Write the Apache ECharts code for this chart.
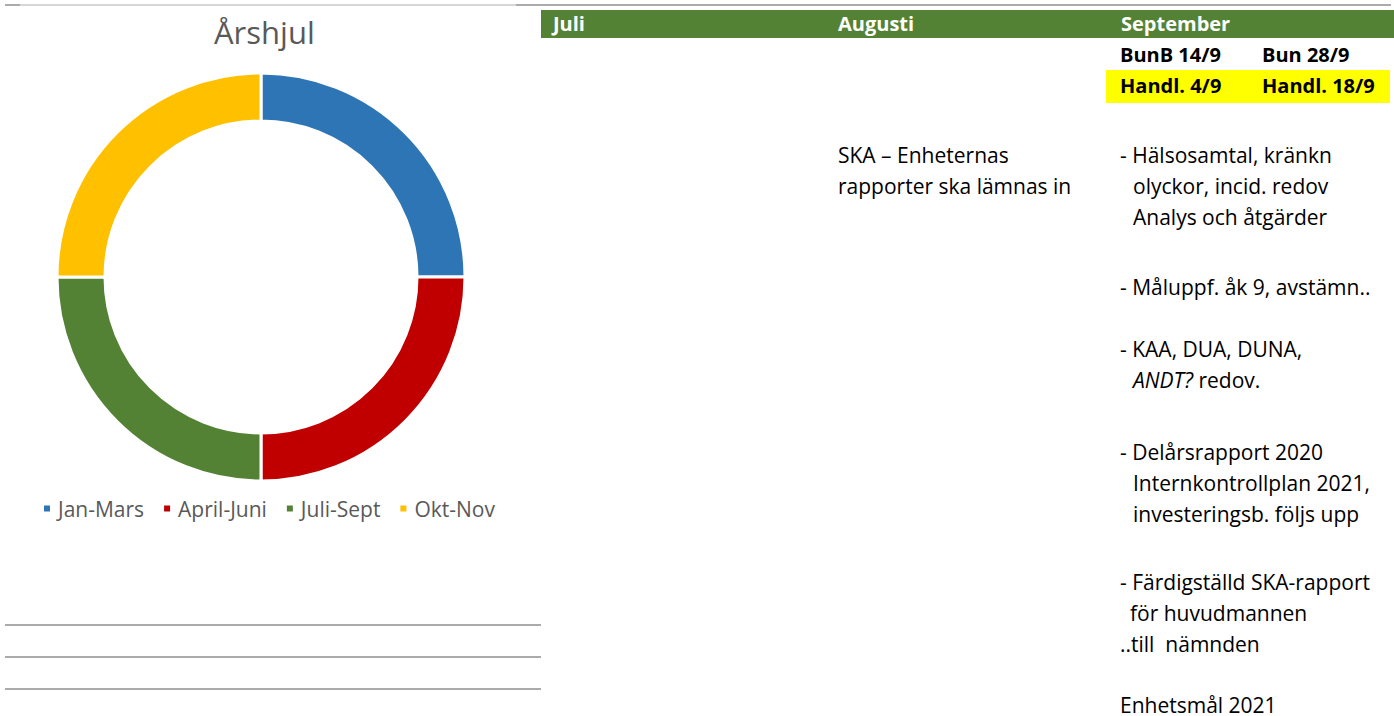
<!DOCTYPE html>
<html>
<head>
<meta charset="utf-8">
<script src="https://cdn.jsdelivr.net/npm/echarts@6/dist/echarts.min.js"></script>
<style>
  html, body { margin:0; padding:0; background:#fff; width:1394px; height:716px; overflow:hidden; font-family:"Open Sans", sans-serif; }
  #chart { position:absolute; left:0; top:0; width:541px; height:600px; }
  .abs { position:absolute; white-space:pre; }
  .hdr { color:#fff; font-weight:bold; font-size:20px; line-height:28px; top:10px; }
  .b { color:#000; font-weight:bold; font-size:20px; line-height:30px; }
  .t { color:#000; font-size:21px; line-height:31px; }
  .hline { position:absolute; height:2px; background:#ababab; }
</style>
</head>
<body>
<div class="hline" style="left:5px;top:4px;width:1386px;"></div>
<div class="hline" style="left:20px;top:4px;width:496px;background:#d6d6d6;"></div>
<div class="hline" style="left:5px;top:624px;width:536px;"></div>
<div class="hline" style="left:5px;top:656px;width:536px;"></div>
<div class="hline" style="left:5px;top:688px;width:536px;"></div>
<div id="chart"></div>
<div id="table"></div>
<script>
// ---- data ----
var categories = ['Jan-Mars', 'April-Juni', 'Juli-Sept', 'Okt-Nov'];
var values = [1, 1, 1, 1];
var chartTitle = 'Årshjul';
var months = ['Juli', 'Augusti', 'September'];
var meetings = ['BunB 14/9', 'Bun 28/9'];
var handl = ['Handl. 4/9', 'Handl. 18/9'];
var augustiLines = ['SKA – Enheternas', 'rapporter ska lämnas in'];
var septLines = [
  '- Hälsosamtal, kränkn',
  'olyckor, incid. redov',
  'Analys och åtgärder',
  '- Måluppf. åk 9, avstämn..',
  '- KAA, DUA, DUNA,',
  '<i>ANDT?</i> redov.',
  '- Delårsrapport 2020',
  'Internkontrollplan 2021,',
  'investeringsb. följs upp',
  '- Färdigställd SKA-rapport',
  'för huvudmannen',
  '..till  nämnden',
  'Enhetsmål 2021'
];

// ---- styles / layout ----
var colors = ['#2E75B6', '#C00000', '#548235', '#FFC000'];
var septY = [155, 186, 217, 287, 349, 380, 452, 483, 514, 582, 613, 644, 705];
var septX = [1120, 1133, 1133, 1120, 1120, 1133, 1120, 1133, 1133, 1120, 1130, 1120, 1120];

var html = '';
html += '<div class="abs" style="left:541px;top:10px;width:853px;height:28px;background:#548235;"></div>';
html += '<div class="abs" style="left:1106px;top:70px;width:284px;height:33px;background:#FFFF00;"></div>';
var monthX = [553, 838, 1121];
months.forEach(function (m, i) { html += '<div class="abs hdr" style="left:' + monthX[i] + 'px;">' + m + '</div>'; });
var colX = [1120, 1262];
meetings.forEach(function (m, i) { html += '<div class="abs b" style="left:' + colX[i] + 'px;top:40px;">' + m + '</div>'; });
handl.forEach(function (m, i) { html += '<div class="abs b" style="left:' + colX[i] + 'px;top:71px;">' + m + '</div>'; });
augustiLines.forEach(function (l, i) { html += '<div class="abs t" style="left:838px;top:' + (155 + i * 31 - 15.5) + 'px;">' + l + '</div>'; });
septLines.forEach(function (l, i) {
  html += '<div class="abs t" style="left:' + septX[i] + 'px;top:' + (septY[i] - 15.5) + 'px;">' + l + '</div>';
});
document.getElementById('table').innerHTML = html;

var chart = echarts.init(document.getElementById('chart'), null, { renderer: 'svg' });
chart.setOption({
  animation: false,
  title: {
    text: chartTitle,
    left: 209, top: 11,
    textStyle: { fontFamily: 'Open Sans', fontSize: 31, fontWeight: 'normal', color: '#595959' }
  },
  legend: {
    data: categories,
    left: 37, top: 493,
    icon: 'rect', itemWidth: 8, itemHeight: 8, itemGap: 18,
    textStyle: { fontFamily: 'Open Sans', fontSize: 21, color: '#595959', padding: [0, 0, 0, 2] }
  },
  series: [{
    type: 'pie',
    center: [261, 277],
    radius: [156, 204],
    startAngle: 90,
    clockwise: true,
    label: { show: false },
    labelLine: { show: false },
    emphasis: { disabled: true },
    itemStyle: { borderColor: '#fff', borderWidth: 3 },
    data: categories.map(function (c, i) { return { name: c, value: values[i], itemStyle: { color: colors[i] } }; })
  }]
});
</script>
</body>
</html>
